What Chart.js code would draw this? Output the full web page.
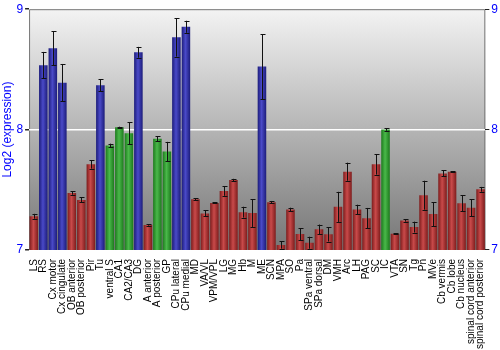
<!DOCTYPE html>
<html>
<head>
<meta charset="utf-8">
<script src="https://cdn.jsdelivr.net/npm/chart.js@4/dist/chart.umd.min.js"></script>
<style>
  html, body { margin: 0; padding: 0; background: #fff; }
  #wrap { width: 500px; height: 350px; }
</style>
</head>
<body>
<div id="wrap"><canvas id="chart"></canvas></div>
<script>
// brain regions along the x axis
const regions = ["LS", "RS", "Cx motor", "Cx cingulate", "OB anterior", "OB posterior", "Pir", "Tu",
  "ventral S", "CA1", "CA2/CA3", "DG", "A anterior", "A posterior", "GP", "CPu lateral", "CPu medial",
  "MD", "VA/VL", "VPM/VPL", "LG", "MG", "Hb", "M", "ME", "SCN", "MPA", "SO", "Pa", "SPa ventral",
  "SPa dorsal", "DM", "VMH", "Arc", "LH", "PAG", "SC", "IC", "VTA", "SN", "Tg", "Pn", "MVe",
  "Cb vermis", "Cb lobe", "Cb nucleus", "spinal cord anterior", "spinal cord posterior"];

// log2 expression per region
const expression = [7.28, 8.535, 8.675, 8.39, 7.474, 7.416, 7.711, 8.369,
  7.868, 8.019, 7.97, 8.642, 7.207, 7.923, 7.818, 8.766, 8.854,
  7.421, 7.303, 7.391, 7.49, 7.581, 7.314, 7.306, 8.523, 7.397, 7.041, 7.336, 7.132, 7.06,
  7.171, 7.13, 7.358, 7.65, 7.336, 7.264, 7.711, 8.0, 7.135, 7.245, 7.19, 7.455, 7.298,
  7.636, 7.65, 7.388, 7.35, 7.504];

// +/- error per region
const errors = [0.02, 0.11, 0.14, 0.155, 0.015, 0.02, 0.035, 0.05,
  0.015, 0.005, 0.09, 0.045, 0.005, 0.02, 0.08, 0.16, 0.05,
  0.01, 0.025, 0.005, 0.04, 0.01, 0.045, 0.115, 0.27, 0.01, 0.03, 0.015, 0.05, 0.05,
  0.04, 0.06, 0.125, 0.075, 0.04, 0.085, 0.085, 0.01, 0.005, 0.01, 0.045, 0.12, 0.1,
  0.025, 0.003, 0.065, 0.07, 0.02];

// colour group per region: r = red, b = blue, g = green
const groups = ["r", "b", "b", "b", "r", "r", "r", "b",
  "g", "g", "g", "b", "r", "g", "g", "b", "b",
  "r", "r", "r", "r", "r", "r", "r", "b", "r", "r", "r", "r", "r",
  "r", "r", "r", "r", "r", "r", "r", "g", "r", "r", "r", "r", "r",
  "r", "r", "r", "r", "r"];

const yTicks = [7, 8, 9];

const shades = {
  r: ["#7d1c1c", "#c94a4a"],
  b: ["#1c1c7a", "#4a4ac8"],
  g: ["#1c7a1c", "#4ab84a"]
};

const barPct = 0.9;

// horizontal shading across each bar
function barFill(ctx) {
  const chart = ctx.chart;
  const x = chart.scales.x;
  if (!chart.chartArea || !x) return shades[groups[ctx.dataIndex]][0];
  const c = shades[groups[ctx.dataIndex]];
  const cx = x.getPixelForValue(ctx.dataIndex);
  const w = (chart.chartArea.width / regions.length) * barPct;
  const g = chart.ctx.createLinearGradient(cx - w / 2, 0, cx + w / 2, 0);
  g.addColorStop(0, c[0]);
  g.addColorStop(0.45, c[1]);
  g.addColorStop(1, c[0]);
  return g;
}

// grey backdrop behind the bars
const backdrop = {
  id: 'backdrop',
  beforeDraw(chart) {
    const { ctx, chartArea: a } = chart;
    const g = ctx.createLinearGradient(0, a.top, 0, a.bottom);
    g.addColorStop(0, '#f3f3f3');
    g.addColorStop(1, '#767676');
    ctx.save();
    ctx.fillStyle = g;
    ctx.fillRect(a.left, a.top, a.width, a.height);
    ctx.strokeStyle = '#777';
    ctx.lineWidth = 1;
    ctx.beginPath();
    ctx.moveTo(a.left + 0.5, a.bottom);
    ctx.lineTo(a.left + 0.5, a.top + 0.5);
    ctx.lineTo(a.right - 0.5, a.top + 0.5);
    ctx.lineTo(a.right - 0.5, a.bottom);
    ctx.stroke();
    ctx.restore();
  }
};

// error whiskers on top of the bars
const whiskers = {
  id: 'whiskers',
  afterDatasetsDraw(chart) {
    const { ctx } = chart;
    const y = chart.scales.y;
    const meta = chart.getDatasetMeta(0);
    ctx.save();
    ctx.strokeStyle = '#111';
    ctx.lineWidth = 1;
    meta.data.forEach((bar, i) => {
      const v = expression[i], e = errors[i];
      const top = y.getPixelForValue(v + e);
      const bot = y.getPixelForValue(v - e);
      const cx = Math.round(bar.x) + 0.5;
      ctx.beginPath();
      ctx.moveTo(cx, top);
      ctx.lineTo(cx, bot);
      ctx.moveTo(cx - 2, Math.round(top) + 0.5);
      ctx.lineTo(cx + 3, Math.round(top) + 0.5);
      ctx.moveTo(cx - 2, Math.round(bot) + 0.5);
      ctx.lineTo(cx + 3, Math.round(bot) + 0.5);
      ctx.stroke();
    });
    ctx.restore();
  }
};

const tickFont = { family: 'Liberation Sans, Arial, sans-serif', size: 12 };

new Chart(document.getElementById('chart'), {
  type: 'bar',
  data: {
    labels: regions,
    datasets: [{
      data: expression,
      backgroundColor: barFill,
      borderWidth: 0,
      barPercentage: barPct,
      categoryPercentage: 1.0
    }]
  },
  options: {
    responsive: true,
    maintainAspectRatio: false,
    animation: false,
    layout: { padding: { top: 2, right: 0, left: 0, bottom: 0 } },
    plugins: { legend: { display: false }, tooltip: { enabled: false } },
    scales: {
      x: {
        grid: { display: false },
        border: { display: false },
        ticks: {
          autoSkip: false, maxRotation: 90, minRotation: 90, padding: 1,
          color: '#000', font: { family: 'Liberation Sans, Arial, sans-serif', size: 10 }
        }
      },
      y: {
        min: 7, max: 9,
        afterBuildTicks: s => { s.ticks = yTicks.map(v => ({ value: v })); },
        border: { display: false },
        grid: {
          color: c => c.tick && c.tick.value === 8 ? '#ffffff' : 'transparent',
          lineWidth: 1.5,
          tickColor: '#222',
          tickLength: 4
        },
        ticks: { color: '#0000ff', font: tickFont, padding: 2 },
        title: { display: true, text: 'Log2 (expression)', color: '#0000ff', font: tickFont, padding: 0 }
      },
      y2: {
        position: 'right',
        min: 7, max: 9,
        afterBuildTicks: s => { s.ticks = yTicks.map(v => ({ value: v })); },
        border: { display: false },
        grid: { drawOnChartArea: false, tickColor: '#222', tickLength: 4 },
        ticks: { color: '#0000ff', font: tickFont, padding: 2 }
      }
    }
  },
  plugins: [backdrop, whiskers]
});
</script>
</body>
</html>
